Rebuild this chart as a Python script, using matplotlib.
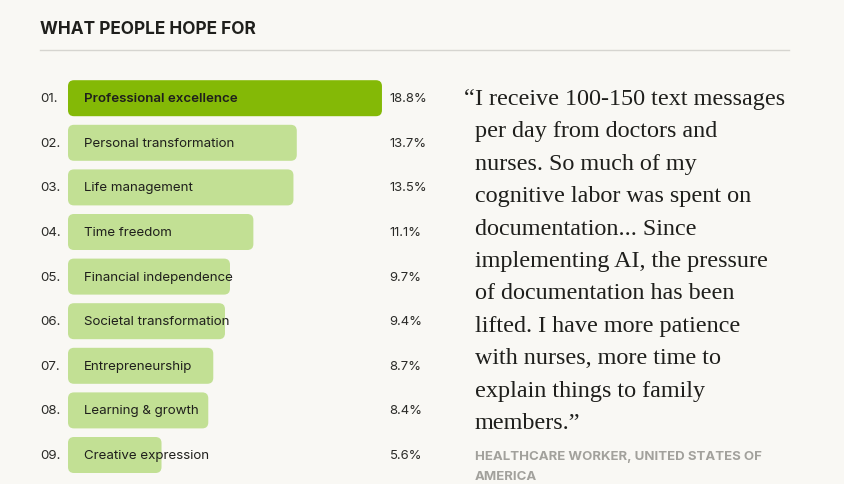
import matplotlib
matplotlib.use("Agg")
import matplotlib.pyplot as plt
from matplotlib.patches import FancyBboxPatch
from matplotlib.transforms import blended_transform_factory

# data
ranks = ["01.", "02.", "03.", "04.", "05.", "06.", "07.", "08.", "09."]
categories = ["Professional excellence", "Personal transformation", "Life management",
              "Time freedom", "Financial independence", "Societal transformation",
              "Entrepreneurship", "Learning & growth", "Creative expression"]
shares = [18.8, 13.7, 13.5, 11.1, 9.7, 9.4, 8.7, 8.4, 5.6]
pct_labels = ["18.8%", "13.7%", "13.5%", "11.1%", "9.7%", "9.4%", "8.7%", "8.4%", "5.6%"]

title = "WHAT PEOPLE HOPE FOR"
quote_lines = ["I receive 100-150 text messages", "per day from doctors and",
               "nurses. So much of my", "cognitive labor was spent on",
               "documentation... Since", "implementing AI, the pressure",
               "of documentation has been", "lifted. I have more patience",
               "with nurses, more time to", "explain things to family",
               "members.\u201d"]
source_lines = ["HEALTHCARE WORKER, UNITED STATES OF", "AMERICA"]

BG = "#f9f8f4"
DARK = "#84b906"
LIGHT = "#c2e094"
INK = "#1f1f1c"

W, H = 844, 485
fig = plt.figure(figsize=(W / 100, H / 100), dpi=100, facecolor=BG)

# px helpers
def fx(px):
    return px / W

def fy(py):
    return 1 - py / H

sans = ["Inter", "DejaVu Sans"]
serif = ["Liberation Serif", "DejaVu Serif"]

# title + rule
fig.text(fx(40), fy(34), title, ha="left", va="baseline", fontsize=12.4,
         fontweight="bold", color=INK, family=sans)
fig.add_artist(plt.Line2D([fx(40), fx(789)], [fy(51), fy(51)], color="#d6d5d0",
                          lw=1.0, transform=fig.transFigure))

# bar axes: x 0..20 -> px 68..402, rows centred at 99.2 + 44.6*i
px_per_unit = 16.7
row_px = 44.6
y0 = 99.2
ax_left, ax_w = 68, px_per_unit * 20
ax_top, ax_bot = y0 - row_px / 2, y0 + 8.5 * row_px
ax = fig.add_axes([fx(ax_left), fy(ax_bot), ax_w / W, (ax_bot - ax_top) / H])
ax.set_xlim(0, 20)
ax.set_ylim(len(shares) - 0.5, -0.5)
ax.axis("off")
ax.patch.set_alpha(0)

bar_h = 36 / row_px
for i, v in enumerate(shares):
    box = FancyBboxPatch((0, i - bar_h / 2), v, bar_h,
                         boxstyle="round,pad=0,rounding_size=%f" % (6 / px_per_unit),
                         mutation_aspect=px_per_unit / row_px,
                         facecolor=DARK if i == 0 else LIGHT, edgecolor="none")
    ax.add_patch(box)

tr = blended_transform_factory(fig.transFigure, ax.transData)
for i, (r, c, p) in enumerate(zip(ranks, categories, pct_labels)):
    ax.text(fx(40), i, r, transform=tr, ha="left", va="center", fontsize=9.6,
            color="#2b2b28", family=sans)
    ax.text(fx(84), i, c, transform=tr, ha="left", va="center", fontsize=9.6,
            color=INK, family=sans, fontweight="semibold" if i == 0 else "normal")
    ax.text(fx(389.5), i, p, transform=tr, ha="left", va="center", fontsize=9.4,
            color="#2b2b28", family=sans)

# quote
qx = 475
fig.text(fx(qx), fy(105), "\u201c", ha="right", va="baseline", fontsize=17.4,
         color=INK, family=serif)
for k, line in enumerate(quote_lines):
    fig.text(fx(qx), fy(105 + 32.4 * k), line, ha="left", va="baseline",
             fontsize=17.4, color=INK, family=serif)

for k, line in enumerate(source_lines):
    fig.text(fx(qx), fy(460 + 20.5 * k), line, ha="left", va="baseline",
             fontsize=9.5, fontweight="bold", color="#a2a19c", family=sans)

fig.savefig("out.png", dpi=100, facecolor=BG)
